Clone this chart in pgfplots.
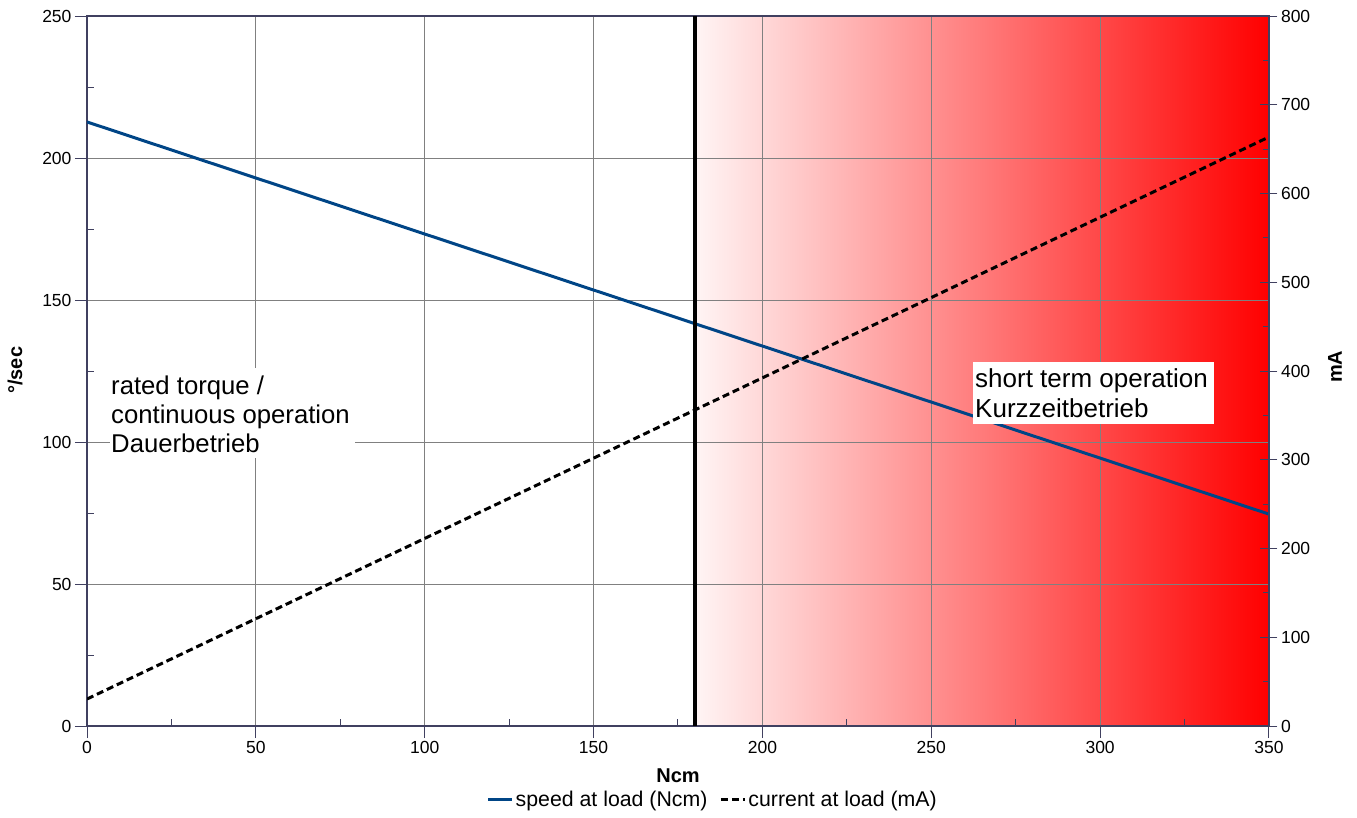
\documentclass[border=0pt]{standalone}
\usepackage{fontspec}
\setmainfont{Liberation Sans}
\usepackage{pgfplots}
\pgfplotsset{compat=1.18}
\definecolor{spd}{HTML}{004586}
\definecolor{axc}{HTML}{404060}
\definecolor{grd}{HTML}{808080}
\begin{document}
\begin{tikzpicture}[x=1pt,y=1pt]
\useasboundingbox (0,0) rectangle (1357,-817);
\pgfplotsset{base/.style={scale only axis, width=1182pt, height=710pt,
  at={(87pt,-726pt)}, anchor=south west, xmin=0, xmax=350,
  /pgf/number format/assume math mode=true,
  tick label style={font=\fontsize{17.5}{20}\selectfont, black},
  axis line style={axc, line width=1.5pt},
  tick style={axc, line width=1pt}}}
% gradient area
\begin{axis}[base, ymin=0, ymax=250, hide axis]
\addplot[draw=none, left color=red!4!white, right color=red] coordinates {(180,250) (350,250)} \closedcycle;
\end{axis}
% left axis
\begin{axis}[base, ymin=0, ymax=250,
  xtick={0,50,...,350}, ytick={0,50,...,250},
  minor x tick num=1, minor y tick num=1,
  xtick pos=bottom, ytick pos=left,
  grid=major, major grid style={grd, line width=1pt},
  tick align=outside, major tick length=12pt, minor tick length=7pt,
  minor x tick style={yshift=7pt}, minor y tick style={xshift=7pt},
  xlabel={Ncm}, ylabel={°/sec},
  label style={font=\fontsize{20}{24}\selectfont\bfseries},
  xlabel style={at={(axis description cs:0.5,-0.0704)}, anchor=center},
  ylabel style={at={(axis description cs:-0.0609,0.501)}, anchor=center},
]
\addplot[spd, line width=3pt] coordinates {(0,212.7) (350,74.6)};
\addplot[black, line width=4pt] coordinates {(180,0) (180,250)};
\end{axis}
% right axis
\begin{axis}[base, ymin=0, ymax=800,
  axis y line*=right, axis x line=none,
  ytick={0,100,...,800}, minor y tick num=1,
  tick align=center, major tick length=17pt, minor tick length=6pt,
  minor y tick style={xshift=-3pt},
  ylabel={mA},
  label style={font=\fontsize{20}{24}\selectfont\bfseries},
  ylabel style={at={(axis description cs:1.0558,0.506)}, anchor=center},
  legend columns=2,
  legend style={at={(axis description cs:0.338,-0.104)}, anchor=west,
    draw=none, fill=none, inner sep=0pt,
    font=\fontsize{21.3}{25}\selectfont,
    /tikz/every even column/.append style={column sep=10pt}},
  legend image code/.code={\draw[#1] (0pt,0pt) -- (24pt,0pt);},
]
\addlegendimage{spd, line width=3pt}
\addlegendentry{speed at load (Ncm)}
\addplot[black, line width=3pt, dash pattern=on 7pt off 4pt] coordinates {(0,30.4) (350,663.7)};
\addlegendentry{current at load (mA)}
\end{axis}
% text boxes
\fill[white] (110,-368) rectangle (355,-458);
\node[anchor=north west, align=left, inner sep=0pt, font=\fontsize{25.7}{29}\selectfont] at (111,-376) {rated torque /\\continuous operation\\Dauerbetrieb};
\fill[white] (973,-362) rectangle (1214,-424);
\node[anchor=north west, align=left, inner sep=0pt, font=\fontsize{26}{30}\selectfont] at (975,-368) {short term operation\\Kurzzeitbetrieb};
\end{tikzpicture}
\end{document}
